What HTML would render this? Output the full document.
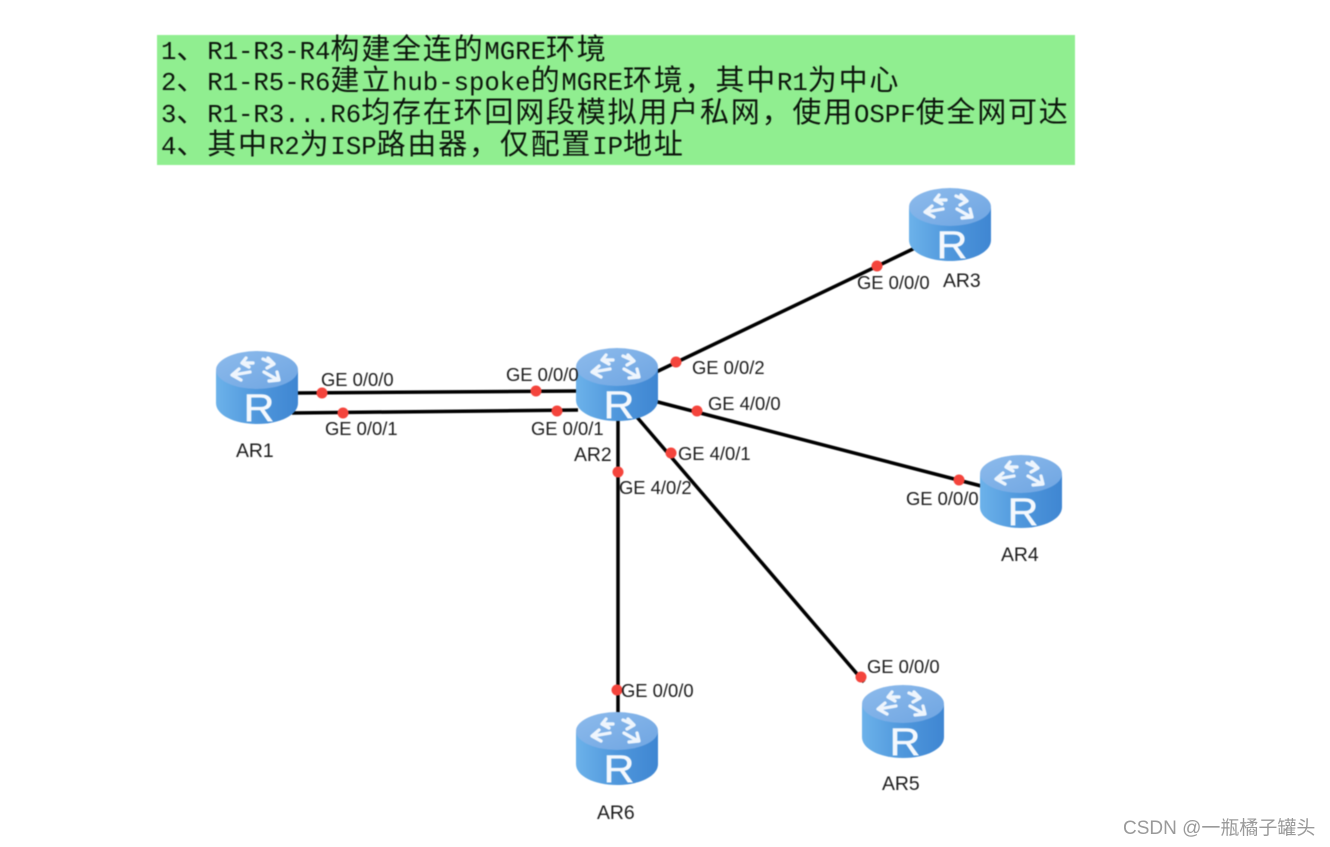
<!DOCTYPE html>
<html><head><meta charset="utf-8">
<style>
html,body{margin:0;padding:0;background:#fff;width:1330px;height:847px;overflow:hidden}
#all{position:absolute;left:0;top:0;width:1330px;height:847px;filter:blur(.5px)}
#box{position:absolute;left:157px;top:35px;width:918px;height:130px;background:#90ee90}
.l{position:absolute;left:4px;white-space:pre;font-family:"Liberation Mono",monospace;font-size:25.67px;line-height:31px;color:#0c160c;letter-spacing:0}
.l span{font-family:"Noto Sans CJK SC","Liberation Sans",sans-serif;font-size:29px;letter-spacing:1.8px;font-weight:400}
svg{position:absolute;left:0;top:0}
svg text{font-family:"Liberation Sans",sans-serif;font-size:18.4px;fill:#1c1c1c}
svg text.n{font-size:19.4px}
#wm{position:absolute;left:1123px;top:817px;font-family:"Liberation Sans","Noto Sans CJK SC",sans-serif;font-size:19px;line-height:24px;color:#9a9a9a;white-space:pre}
</style></head><body>
<div id="all">
<div id="box">
<div class="l" style="top:-3px">1<span>、</span>R1-R3-R4<span>构建全连的</span>MGRE<span>环境</span></div>
<div class="l" style="top:28px">2<span>、</span>R1-R5-R6<span>建立</span>hub-spoke<span>的</span>MGRE<span>环境，其中</span>R1<span>为中心</span></div>
<div class="l" style="top:60px">3<span>、</span>R1-R3...R6<span>均存在环回网段模拟用户私网，使用</span>OSPF<span>使全网可达</span></div>
<div class="l" style="top:92px">4<span>、其中</span>R2<span>为</span>ISP<span>路由器，仅配置</span>IP<span>地址</span></div>
</div>
<svg width="1330" height="847" viewBox="0 0 1330 847">
<defs>
<linearGradient id="b" x1="0" x2="1" y1="0" y2="0">
<stop offset="0" stop-color="#6cb2ea"/><stop offset=".5" stop-color="#4f97dc"/><stop offset="1" stop-color="#3f86d2"/>
</linearGradient>
<linearGradient id="t" x1="0" x2="1" y1="0" y2="1">
<stop offset="0" stop-color="#8dbbec"/><stop offset="1" stop-color="#6fa5e2"/>
</linearGradient>
<g id="r">
<path d="M0 20V52C0 64 18 73 41 73S82 64 82 52V20Z" fill="url(#b)"/>
<ellipse cx="41" cy="19" rx="41" ry="19" fill="url(#t)"/>
<g stroke="#eef5fd" stroke-width="3.400" fill="none" stroke-linecap="round" stroke-linejoin="round">
<path d="M37 12L27 12M30 7L26 12L33 16"/>
<path d="M47 8L58 13M52 7L58 13L51 17"/>
<path d="M34 21L17 24M23 18L16 24L25 29"/>
<path d="M48 21L62 29M61 21L63 29L53 30"/>
</g>
<text transform="translate(43,70) scale(1.1,1)" text-anchor="middle" style="font-size:39px;fill:#f4f8fd;stroke:#f4f8fd;stroke-width:.5px">R</text>
</g>
</defs>
<g stroke="#000" stroke-width="3.500" fill="none">
<path d="M296 393L578 391"/>
<path d="M292 413L578 410"/>
<path d="M654 373L915 248"/>
<path d="M654 401L985 487"/>
<path d="M636 416L864 682"/>
<path d="M618 418V716"/>
</g>
<use href="#r" x="216" y="351"/>
<use href="#r" x="576" y="348"/>
<use href="#r" x="909" y="188"/>
<use href="#r" x="980" y="455"/>
<use href="#r" x="862" y="685"/>
<use href="#r" x="576" y="712"/>
<g fill="#f4443c">
<circle cx="322" cy="393" r="5.500"/><circle cx="536" cy="391" r="5.500"/>
<circle cx="343" cy="413" r="5.500"/><circle cx="557" cy="411" r="5.500"/>
<circle cx="676" cy="362" r="5.500"/><circle cx="877" cy="266" r="5.500"/>
<circle cx="697" cy="411" r="5.500"/><circle cx="959" cy="480" r="5.500"/>
<circle cx="671" cy="453" r="5.500"/><circle cx="861" cy="677" r="5.500"/>
<circle cx="618" cy="472" r="5.500"/><circle cx="617" cy="690" r="5.500"/>
</g>
<text x="321" y="386">GE 0/0/0</text>
<text x="506" y="381">GE 0/0/0</text>
<text x="325" y="435">GE 0/0/1</text>
<text x="531" y="435">GE 0/0/1</text>
<text x="692" y="374">GE 0/0/2</text>
<text x="857" y="289">GE 0/0/0</text>
<text x="708" y="410">GE 4/0/0</text>
<text x="906" y="505">GE 0/0/0</text>
<text x="678" y="460">GE 4/0/1</text>
<text x="619" y="494">GE 4/0/2</text>
<text x="621" y="697">GE 0/0/0</text>
<text x="867" y="673">GE 0/0/0</text>
<text class="n" x="236" y="457">AR1</text>
<text class="n" x="574" y="461">AR2</text>
<text class="n" x="943" y="287">AR3</text>
<text class="n" x="1001" y="561">AR4</text>
<text class="n" x="882" y="790">AR5</text>
<text class="n" x="597" y="819">AR6</text>
</svg>
</div>
<div id="wm">CSDN @一瓶橘子罐头</div>
</body></html>
